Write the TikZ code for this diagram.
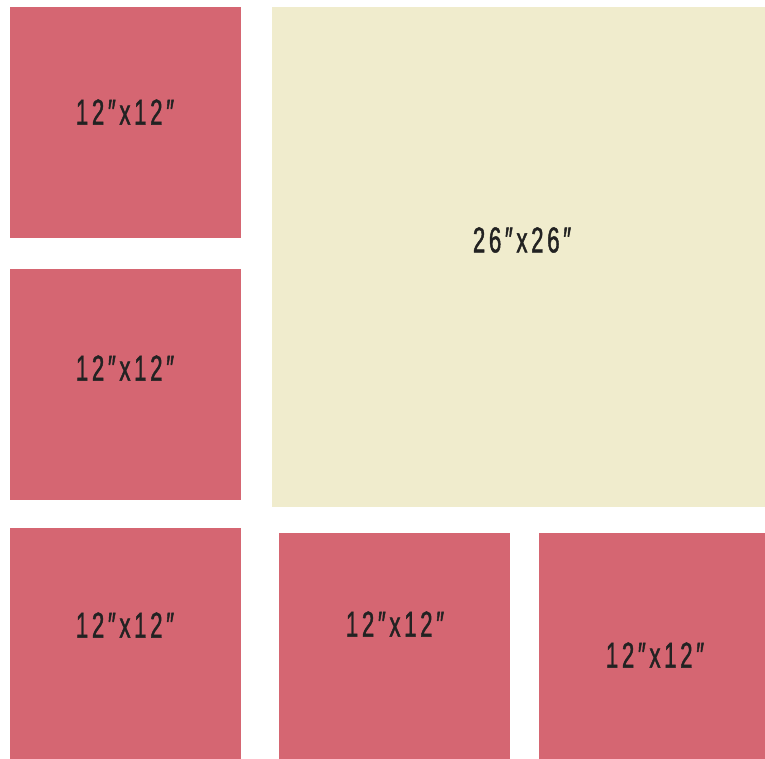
\documentclass[tikz,border=0pt]{standalone}
\usepackage{fontspec}
\newfontfamily\sizefont[FakeStretch=0.62,LetterSpace=10,FakeBold=1.2]{Liberation Sans}
\definecolor{tilered}{HTML}{D56672}
\definecolor{tilecream}{HTML}{F0ECCD}
\definecolor{sizeink}{HTML}{222222}

\begin{document}
\begin{tikzpicture}[
    x=1pt, y=-1pt,
    tile/.style={
        rectangle,
        anchor=north west,
        inner sep=0pt,
        outer sep=0pt
    },
    small/.style={tile, fill=tilered, minimum width=231pt, minimum height=231pt},
    big/.style={tile, fill=tilecream, minimum width=493pt, minimum height=500pt},
    size/.style={text=sizeink, font=\sizefont\fontsize{36}{36}\selectfont, inner sep=0pt}
]
\useasboundingbox (0,0) rectangle (765,759);

\begin{scope}
\clip (0,0) rectangle (765,759);

\node (topleft) [small] at (10,7) {};
\node (midleft) [small] at (10,269) {};
\node (lowleft) [small] at (10,528) {};
\node (lowmid) [small] at (279,533) {};
\node (lowright) [small] at (539,533) {};
\node (poster) [big] at (272,7) {};
\end{scope}

\node (topleftsize) [size] at (125,112) {12″x12″};
\node (midleftsize) [size] at (125,368) {12″x12″};
\node (lowleftsize) [size] at (125,625) {12″x12″};
\node (lowmidsize) [size] at (395,624) {12″x12″};
\node (lowrightsize) [size] at (655,655) {12″x12″};
\node (postersize) [size] at (522,240) {26″x26″};

\end{tikzpicture}
\end{document}
